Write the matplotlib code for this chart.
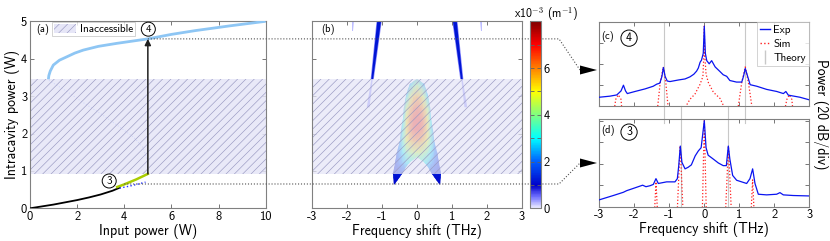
import numpy as np
import matplotlib
matplotlib.use('Agg')
import matplotlib.pyplot as plt
from matplotlib.colors import LinearSegmentedColormap, Normalize
from matplotlib.patches import Rectangle, Polygon, Patch
from matplotlib.lines import Line2D
from matplotlib.cm import ScalarMappable

plt.rcParams['font.family'] = ['cmss10', 'DejaVu Sans']
plt.rcParams['axes.unicode_minus'] = False
plt.rcParams['mathtext.fontset'] = 'cm'
plt.rcParams['hatch.linewidth'] = 0.45

# ---------------- data: (a) bistability curve ----------------
low_pin = [0, 0.5, 1.0, 1.5, 2.0, 2.5, 3.0, 3.5, 3.8]
low_pc = [0, 0.05, 0.1, 0.16, 0.22, 0.29, 0.37, 0.47, 0.55]
edge_pin = [3.7, 4.0, 4.5, 5.0]
edge_pc = [0.57, 0.64, 0.77, 0.92]
sim_pin = [3.8, 4.2, 4.6, 4.9]
sim_pc = [0.54, 0.59, 0.65, 0.70]
mid_pin = [0.8, 1.5, 2.2, 3.0, 3.7, 4.4, 4.8, 4.97, 5.0]
mid_pc = [3.42, 3.15, 2.85, 2.53, 2.22, 1.9, 1.62, 1.3, 0.92]
up_pin = [0.78, 0.8, 0.86, 0.99, 1.25, 1.56, 1.9, 2.26, 2.9, 3.68, 5.0, 6.0, 7.0, 8.5, 10.0]
up_pc = [3.45, 3.55, 3.67, 3.83, 3.96, 4.05, 4.15, 4.23, 4.33, 4.41, 4.53, 4.65, 4.75, 4.88, 5.0]
inacc_lo, inacc_hi = 0.92, 3.45
jump_pin = 5.0
P4, P3 = 4.53, 0.65
P3_start = 4.0

# ---------------- data: (b) gain map ----------------
gain_f = [0, 0.1, 0.2, 0.3, 0.4, 0.5, 0.6, 0.7]
gain_P = [0.6, 0.9, 1.2, 1.5, 1.8, 2.1, 2.4, 2.7, 3.0, 3.3, 3.6]
gain_half = [
    [1.0, 1.0, 1.0, 1.0, 1.0, 1.0, 1.0, 1.0],
    [1.2, 1.2, 1.2, 1.2, 1.2, 1.2, 1.2, 1.2],
    [3.0, 3.0, 3.0, 2.8, 2.3, 1.8, 1.4, 1.2],
    [4.6, 4.5, 4.2, 3.8, 3.0, 2.2, 1.6, 1.2],
    [6.0, 5.9, 5.5, 4.9, 3.6, 2.3, 1.6, 1.2],
    [6.8, 6.7, 6.2, 5.3, 3.4, 2.0, 1.5, 1.2],
    [6.8, 6.7, 6.2, 5.1, 3.0, 1.8, 1.4, 1.2],
    [6.5, 6.3, 5.6, 4.4, 2.4, 1.6, 1.3, 1.2],
    [5.8, 5.5, 4.5, 2.8, 1.8, 1.4, 1.2, 1.2],
    [4.2, 3.7, 2.5, 1.8, 1.4, 1.2, 1.2, 1.2],
    [2.0, 1.8, 1.5, 1.3, 1.2, 1.2, 1.2, 1.2],
]
lobe_out_P = [0.62, 0.93, 1.2, 1.5, 1.8, 2.1, 2.4, 2.7, 3.0, 3.2, 3.32, 3.41, 3.45]
lobe_out_hw = [0.66, 0.68, 0.62, 0.56, 0.5, 0.45, 0.41, 0.37, 0.32, 0.26, 0.19, 0.1, 0.0]
lobe_in_P = [0.62, 0.93, 1.1, 1.25, 1.38]
lobe_in_hw = [0.66, 0.44, 0.32, 0.2, 0.0]
streak_P = [3.44, 5.0]
streak_in = [1.26, 1.03]
streak_out = [1.31, 1.14]
faint_P = [2.7, 3.44]
faint_in = [1.36, 1.27]
faint_out = [1.44, 1.31]
top_P = [4.75, 5.0]
top_in = [1.82, 1.80]
top_out = [1.86, 1.86]

# ---------------- data: (c) and (d) spectra ----------------
c_exp_f = [-3.0, -2.70, -2.50, -2.38, -2.31, -2.25, -2.20, -1.98, -1.69, -1.46, -1.36, -1.27, -1.21, -1.17, -1.12, -1.06,
           -0.98, -0.74, -0.55, -0.41, -0.30, -0.22, -0.17, -0.12, -0.08, -0.03, 0.0, 0.03, 0.07, 0.14, 0.21, 0.31,
           0.45, 0.54, 0.64, 0.73, 0.92, 1.07, 1.12, 1.17, 1.22, 1.31, 1.50, 1.78, 2.07, 2.26, 2.33, 2.40, 2.73, 3.0]
c_exp_db = [-72.0, -71.0, -69.8, -66.0, -60.5, -66.0, -68.5, -66.5, -64.0, -61.5, -59.5, -58.5, -52.0, -43.5, -52.0, -56.5,
            -57.0, -55.5, -54.5, -52.5, -50.0, -47.0, -44.0, -38.5, -36.5, -30.0, -4.0, -30.0, -37.0, -40.0, -37.0, -43.0,
            -47.5, -50.5, -52.0, -56.0, -57.5, -57.5, -52.0, -44.5, -50.0, -60.0, -61.5, -64.5, -66.5, -68.5, -66.5, -70.0,
            -72.0, -74.5]
c_sim_f = [-2.60, -2.53, -2.456, -2.38, -2.34, np.nan,
           -1.36, -1.26, -1.17, -1.10, -1.01, np.nan,
           -0.69, -0.41, -0.266, -0.123, -0.04, -0.01, 0.0, 0.01, 0.05, 0.12, 0.26, 0.45, 0.69, np.nan,
           0.93, 1.07, 1.17, 1.26, 1.40, np.nan,
           2.26, 2.36, 2.43, 2.50, 2.55]
c_sim_db = [-90, -74, -69.7, -74, -90, np.nan,
            -90, -58, -43, -58, -90, np.nan,
            -90, -74, -68.9, -59.7, -52.2, -30, -4, -30, -50, -58.3, -67.2, -73.2, -90, np.nan,
            -90, -58, -43, -58, -90, np.nan,
            -90, -74, -69.7, -74, -90]
c_theory = [-1.15, 1.16]

d_exp_f = [-3.0, -2.6, -2.314, -2.219, -2.029, -1.762, -1.667, -1.552, -1.457, -1.381, -1.314, -1.076, -0.838, -0.77,
           -0.73, -0.686, -0.64, -0.55, -0.46, -0.37, -0.26, -0.17, -0.09, 0.0, 0.05, 0.11, 0.257, 0.4, 0.54, 0.63,
           0.686, 0.73, 0.81, 0.924, 1.067, 1.21, 1.305, 1.381, 1.448, 1.543, 1.781, 2.067, 2.162, 2.257, 2.543, 3.0]
d_exp_db = [-73.6, -69.6, -66.6, -65.1, -63.0, -60.0, -61.4, -60.5, -59.3, -53.9, -58.4, -56.9, -56.9, -53.9,
            -41.8, -23.6, -38.7, -44.8, -43.3, -41.1, -32.7, -28.1, -25.1, 0.0, -25.1, -32.1, -35.7, -39.3, -41.8, -41.8,
            -23.6, -35.7, -50.9, -55.4, -56.9, -58.4, -53.9, -44.8, -58.4, -68.4, -69.0, -68.4, -66.9, -69.0, -69.6, -70.0]
d_sim_f = [-1.43, -1.38, -1.33, np.nan, -0.78, -0.72, -0.69, -0.66, -0.60, np.nan,
           -0.06, -0.02, 0.0, 0.02, 0.06, np.nan,
           0.60, 0.66, 0.69, 0.72, 0.78, np.nan, 1.33, 1.38, 1.43]
d_sim_db = [-90, -56.9, -90, np.nan, -90, -45, -23.6, -45, -90, np.nan,
            -90, -30, 0.0, -30, -90, np.nan,
            -90, -45, -23.6, -45, -90, np.nan, -90, -55, -90]
d_theory = [-0.68, 0.686]

freq_ticks = [-3, -2, -1, 0, 1, 2, 3]

# ---------------- figure ----------------
W, H = 830.0, 241.0
fig = plt.figure(figsize=(W / 100, H / 100), dpi=100)


def px_box(l, t, r, b):
    return [l / W, 1 - b / H, (r - l) / W, (b - t) / H]


ax_a = fig.add_axes(px_box(30, 21.3, 265.7, 208.3))
ax_b = fig.add_axes(px_box(312.3, 21.3, 521.7, 208.3))
cax = fig.add_axes(px_box(530, 21.3, 541, 208.3))
ax_c = fig.add_axes(px_box(599.3, 22, 809.3, 106))
ax_d = fig.add_axes(px_box(599.3, 119.3, 809.3, 206.7))

spine_col = '#808080'
hatch_face = (0.9, 0.9, 0.97)
hatch_edge = (0.6, 0.6, 0.76)
HATCH = '////'


def style(ax):
    ax.tick_params(direction='in', top=True, right=True, length=3, width=0.6,
                   color='#606060', labelsize=9, pad=2)
    for s in ax.spines.values():
        s.set_color(spine_col)
        s.set_linewidth(0.8)


def circled(ax, x, y, digit, size=8):
    ax.text(x, y, digit, ha='center', va='center', fontsize=size, zorder=6,
            bbox=dict(boxstyle='circle,pad=0.18', fc='white', ec='black', lw=0.7))


for ax in (ax_a, ax_b, ax_c, ax_d):
    style(ax)

# ---- (a)
ax_a.plot(mid_pin, mid_pc, ':', color='#6688ff', lw=0.8, zorder=1)
ax_a.add_patch(Rectangle((0, inacc_lo), 10, inacc_hi - inacc_lo, facecolor=hatch_face + (0.85,),
                         edgecolor=hatch_edge, hatch=HATCH, lw=0, zorder=2))
ax_a.plot(low_pin, low_pc, color='black', lw=1.3, zorder=3)
ax_a.plot(edge_pin, edge_pc, color='#aacc00', lw=1.8, zorder=3)
ax_a.plot(sim_pin, sim_pc, ':', color='#2030ff', lw=1.0, zorder=4)
ax_a.plot(up_pin, up_pc, color='#8ec6f4', lw=2.0, zorder=3, solid_capstyle='butt')
ax_a.annotate('', xy=(jump_pin, P4), xytext=(jump_pin, inacc_lo),
              arrowprops=dict(arrowstyle='-|>', color='#202020', lw=1.1, mutation_scale=9,
                              shrinkA=0, shrinkB=0), zorder=5)
circled(ax_a, jump_pin + 0.02, P4 + 0.26, '4')
circled(ax_a, 3.36, P3 + 0.08, '3')
ax_a.text(0.55, 4.78, '(a)', fontsize=7.5, ha='center', va='center')
leg = ax_a.legend(handles=[Patch(facecolor=hatch_face, edgecolor=hatch_edge, hatch=HATCH, lw=0,
                                 label='Inaccessible')],
                  loc='upper left', bbox_to_anchor=(0.095, 0.995), fontsize=8, frameon=True,
                  fancybox=False, borderpad=0.15, handlelength=2.0, handleheight=0.9,
                  handletextpad=0.3, borderaxespad=0)
leg.get_frame().set_edgecolor('#c0c0c0')
leg.get_frame().set_linewidth(0.6)
ax_a.set_xlim(0, 10)
ax_a.set_ylim(0, 5)
ax_a.set_xticks([0, 2, 4, 6, 8, 10])
ax_a.set_yticks([0, 1, 2, 3, 4, 5])
ax_a.set_xlabel('Input power (W)', fontsize=10, labelpad=0.5)
ax_a.set_ylabel('Intracavity power (W)', fontsize=10, labelpad=1)

# ---- (b)
cmap = LinearSegmentedColormap.from_list('wjet', [
    (0.0, '#eeeeff'), (0.06, '#7070ff'), (0.12, '#0000c8'), (0.25, '#0060ff'),
    (0.375, '#00ffff'), (0.5, '#80ff80'), (0.625, '#ffff00'), (0.75, '#ff8000'),
    (0.875, '#ff0000'), (1.0, '#800000')])
norm = Normalize(0, 8)

half = np.array(gain_half)
gain_full = np.hstack([half[:, :0:-1], half])
f_full = np.concatenate([-np.array(gain_f[:0:-1]), gain_f])
out_P = np.array(lobe_out_P)
out_hw = np.array(lobe_out_hw)
in_P = np.array(lobe_in_P)
in_hw = np.array(lobe_in_hw)
lobe_xy = np.vstack([
    np.column_stack([-out_hw, out_P]),
    np.column_stack([out_hw[::-1], out_P[::-1]]),
    np.column_stack([in_hw, in_P]),
    np.column_stack([-in_hw[::-1], in_P[::-1]]),
])
lobe = Polygon(lobe_xy, closed=True, transform=ax_b.transData)
mesh = ax_b.pcolormesh(f_full, gain_P, gain_full, shading='gouraud', cmap=cmap, norm=norm, zorder=1)
mesh.set_clip_path(lobe)


def streak(ax, P, inner, outer, val, alpha=1.0):
    for sgn in (-1, 1):
        xy = [(sgn * inner[0], P[0]), (sgn * outer[0], P[0]), (sgn * outer[1], P[1]), (sgn * inner[1], P[1])]
        ax.add_patch(Polygon(xy, closed=True, facecolor=cmap(norm(val)), edgecolor='none',
                             alpha=alpha, zorder=1))


streak(ax_b, streak_P, [v - 0.02 for v in streak_in], [v + 0.02 for v in streak_out], 0.5, 0.8)
streak(ax_b, streak_P, streak_in, streak_out, 1.2)
streak(ax_b, faint_P, faint_in, faint_out, 0.5, 0.8)
streak(ax_b, top_P, top_in, top_out, 0.35, 0.6)

ax_b.add_patch(Rectangle((-3, inacc_lo), 6, inacc_hi - inacc_lo, facecolor=hatch_face + (0.74,),
                         edgecolor=hatch_edge, hatch=HATCH, lw=0, zorder=2))
ax_b.text(-2.55, 4.78, '(b)', fontsize=7.5, ha='center', va='center')
ax_b.set_xlim(-3, 3)
ax_b.set_ylim(0, 5)
ax_b.set_xticks(freq_ticks)
ax_b.set_yticks([0, 1, 2, 3, 4, 5])
ax_b.set_yticklabels([])
ax_b.set_xlabel('Frequency shift (THz)', fontsize=10, labelpad=0.5)

cb = fig.colorbar(ScalarMappable(norm=norm, cmap=cmap), cax=cax)
cb.set_ticks([0, 2, 4, 6])
cb.ax.set_yticks([1, 3, 5, 7], minor=True)
cb.ax.tick_params(which='both', direction='in', left=True, right=True, length=3, width=0.6,
                  color='#606060', labelsize=9, pad=2)
cb.outline.set_edgecolor(spine_col)
cb.outline.set_linewidth(0.8)
cax.set_zorder(3)
fig.text(546 / W, 1 - 14 / H, r'x10$^{\mathsf{-3}}$ (m$^{\mathsf{-1}}$)', ha='center', va='center', fontsize=8.5)

# ---- (c) and (d)
for ax, ef, ed, sf, sd, lab, num, ylim in (
        (ax_c, c_exp_f, c_exp_db, c_sim_f, c_sim_db, '(c)', '4', (-80.4, -4)),
        (ax_d, d_exp_f, d_exp_db, d_sim_f, d_sim_db, '(d)', '3', (-78.2, 1.3))):
    ax.plot(ef, ed, color='#0a14f0', lw=0.9, zorder=3, label='Exp')
    ax.plot(sf, sd, ':', color='#ff2020', lw=0.9, zorder=2, label='Sim')
    ax.set_xlim(-3, 3)
    ax.set_ylim(*ylim)
    ax.set_xticks(freq_ticks)
    ax.set_yticks([-80, -60, -40, -20, 0])
    ax.set_yticklabels([])
    ax.text(-2.75, ylim[1] - 0.13 * (ylim[1] - ylim[0]), lab, fontsize=7.5, ha='center', va='center')
    circled(ax, -2.15, ylim[1] - 0.15 * (ylim[1] - ylim[0]), num, size=8.5)
ax_c.set_xticklabels([])
ax_d.set_xlabel('Frequency shift (THz)', fontsize=10, labelpad=0.5)

# theory lines, running a little past their own panel
top_c = 1 - 22 / H
for f in c_theory:
    x = ax_c.transData.transform((f, 0))[0] / W
    fig.add_artist(Line2D([x, x], [top_c, 1 - 123.3 / H], color='#c8c8c8', lw=0.8, zorder=0.5))
for f in d_theory:
    x = ax_d.transData.transform((f, 0))[0] / W
    fig.add_artist(Line2D([x, x], [1 - 106 / H, 1 - 206.7 / H], color='#c8c8c8', lw=0.8, zorder=0.5))
for ax in (ax_c, ax_d):
    ax.set_zorder(1)
    ax.patch.set_alpha(0)

lg = ax_c.legend(handles=[Line2D([], [], color='#0a14f0', lw=1.0, label='Exp'),
                          Line2D([], [], color='#ff2020', lw=1.0, ls=':', label='Sim'),
                          Line2D([], [], color='#c8c8c8', marker='|', ls='none', ms=10, label='Theory')],
                 loc='upper right', bbox_to_anchor=(1, 1), borderaxespad=0, fontsize=8, fancybox=False,
                 handlelength=0.9, handletextpad=0.3, labelspacing=0.35, borderpad=0.3)
lg.get_frame().set_edgecolor('#c0c0c0')
lg.get_frame().set_linewidth(0.6)

fig.text(820 / W, 1 - 114 / H, 'Power (20 dB/div)', rotation=270, ha='center', va='center', fontsize=10)

# ---- dotted connectors with arrow heads
inv = fig.transFigure.inverted()
for (px, py), y_end in (((jump_pin, P4), 70), ((P3_start, P3), 163)):
    x0, y0 = inv.transform(ax_a.transData.transform((px, py)))
    xs = [x0, 559 / W, 580 / W]
    ys = [y0, y0, 1 - y_end / H]
    fig.add_artist(Line2D(xs, ys, ls=':', color='#505050', lw=0.8, zorder=2))
    fig.add_artist(Polygon([(580 / W, 1 - (y_end - 4.5) / H), (580 / W, 1 - (y_end + 4.5) / H),
                            (597 / W, 1 - y_end / H)], closed=True, facecolor='black',
                           edgecolor='none', transform=fig.transFigure, zorder=2))

fig.savefig('out.png', dpi=100)
